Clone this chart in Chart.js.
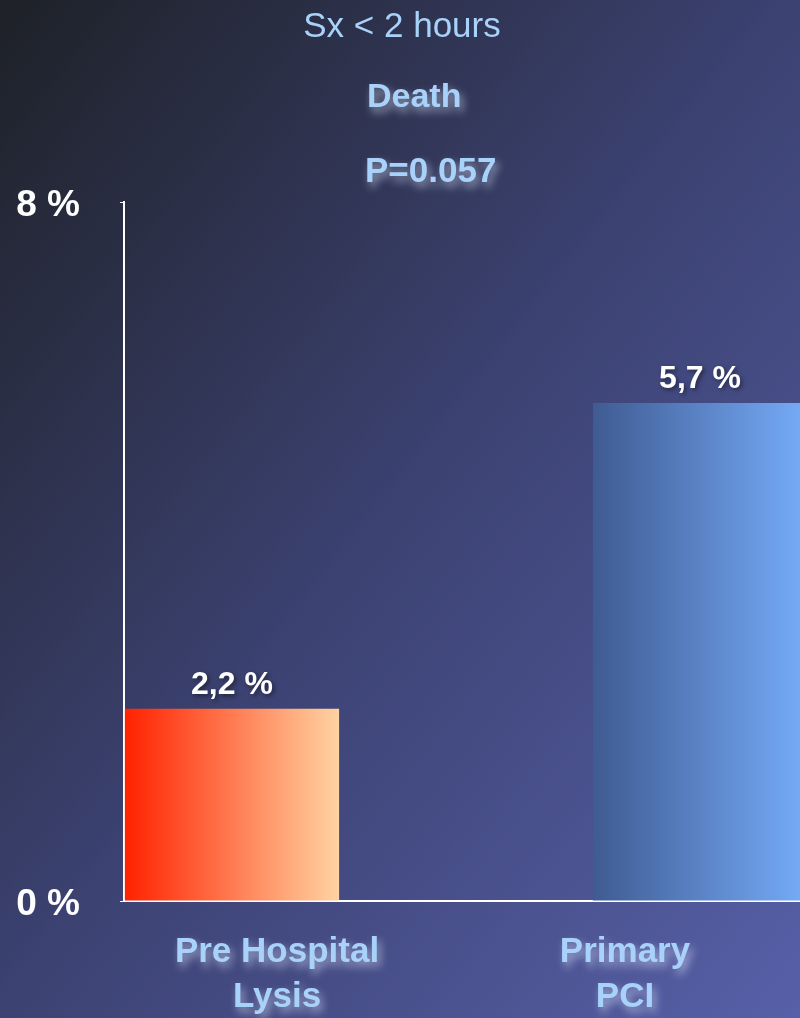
<!DOCTYPE html>
<html>
<head>
<meta charset="utf-8">
<script src="https://cdn.jsdelivr.net/npm/chart.js@4"></script>
<style>
  html, body { margin: 0; padding: 0; width: 800px; height: 1018px; overflow: hidden; }
  body { background: linear-gradient(to bottom right, #1e2127 0%, #3c4272 50%, #5760a8 100%); }
  #wrap { position: absolute; left: 0; top: 0; width: 830px; height: 1018px; }
</style>
</head>
<body>
<div id="wrap"><canvas id="myChart"></canvas></div>
<script>
var titleLines = ['Sx < 2 hours', 'Death', 'P=0.057'];
var categories = [['Pre Hospital', 'Lysis'], ['Primary', 'PCI']];
var lysisValues = [2.2, null];
var pciValues = [null, 5.7];
var yTicks = [0, 8];
var barColors = [['#ff2200', '#ffd3a2'], ['#3f5b92', '#76acf9']];

var fontName = '"Liberation Sans", Arial, sans-serif';

// horizontal gradient across each bar, set just before the bars are drawn
var gradientPlugin = {
  id: 'barGradients',
  beforeDatasetsDraw: function (chart) {
    var ctx = chart.ctx;
    chart.data.datasets.forEach(function (ds, d) {
      var meta = chart.getDatasetMeta(d);
      meta.data.forEach(function (el, i) {
        if (ds.data[i] === null || !el || !el.width) return;
        var g = ctx.createLinearGradient(el.x - el.width / 2, 0, el.x + el.width / 2, 0);
        g.addColorStop(0, barColors[d][0]);
        g.addColorStop(1, barColors[d][1]);
        el.options = Object.assign({}, el.options, { backgroundColor: g });
      });
    });
  }
};

var textPlugin = {
  id: 'texts',
  afterDraw: function (chart) {
    var ctx = chart.ctx;
    ctx.save();

    // titles
    ctx.fillStyle = '#a9d2fa';
    ctx.textBaseline = 'alphabetic';
    ctx.textAlign = 'center';
    ctx.font = '35px ' + fontName;
    ctx.fillText(titleLines[0], 402, 37);
    ctx.shadowColor = 'rgba(225,235,255,0.6)';
    ctx.shadowBlur = 8;
    ctx.shadowOffsetX = 3;
    ctx.shadowOffsetY = 5;
    ctx.textAlign = 'left';
    ctx.font = 'bold 34px ' + fontName;
    ctx.fillText(titleLines[1], 367, 107);
    ctx.font = 'bold 35px ' + fontName;
    ctx.fillText(titleLines[2], 365, 182);

    // category labels
    var xs = chart.scales.x;
    var shift = [-18, -12];
    ctx.textAlign = 'center';
    categories.forEach(function (lines, i) {
      var x = xs.getPixelForValue(i) + shift[i];
      lines.forEach(function (t, j) {
        ctx.fillText(t, x, 962 + j * 45);
      });
    });

    // value labels
    ctx.shadowColor = 'rgba(0,0,0,0.45)';
    ctx.shadowBlur = 4;
    ctx.shadowOffsetX = 2;
    ctx.shadowOffsetY = 2;
    ctx.fillStyle = '#ffffff';
    ctx.font = 'bold 32px ' + fontName;
    chart.data.datasets.forEach(function (ds, d) {
      var meta = chart.getDatasetMeta(d);
      ds.data.forEach(function (v, i) {
        if (v === null) return;
        var el = meta.data[i];
        ctx.fillText(String(v).replace('.', ',') + ' %', el.x, el.y - 15);
      });
    });
    ctx.restore();
  }
};

var ctx = document.getElementById('myChart');
var myChart = new Chart(ctx, {
  type: 'bar',
  data: {
    labels: categories,
    datasets: [
      { label: 'Pre Hospital Lysis', data: lysisValues, backgroundColor: barColors[0][0] },
      { label: 'Primary PCI', data: pciValues, backgroundColor: barColors[1][0] }
    ]
  },
  options: {
    responsive: true,
    maintainAspectRatio: false,
    animation: false,
    categoryPercentage: 0.737,
    barPercentage: 1.7,
    layout: { padding: { top: 202, right: 22, left: 0, bottom: 0 } },
    plugins: {
      legend: { display: false },
      tooltip: { enabled: false }
    },
    scales: {
      x: {
        grid: { display: false },
        border: { display: true, color: '#ffffff', width: 2 },
        ticks: { display: false },
        afterFit: function (s) { s.height = 117; }
      },
      y: {
        min: 0,
        max: 8,
        afterBuildTicks: function (s) { s.ticks = yTicks.map(function (v) { return { value: v }; }); },
        grid: { drawOnChartArea: false, color: '#ffffff', tickLength: 4 },
        border: { display: true, color: '#ffffff', width: 2 },
        ticks: {
          color: '#ffffff',
          padding: 40,
          labelOffset: 4,
          font: { family: fontName, size: 37, weight: 'bold' },
          callback: function (v) { return v + ' %'; }
        },
        afterFit: function (s) { s.width = 124; }
      }
    }
  },
  plugins: [gradientPlugin, textPlugin]
});
</script>
</body>
</html>
